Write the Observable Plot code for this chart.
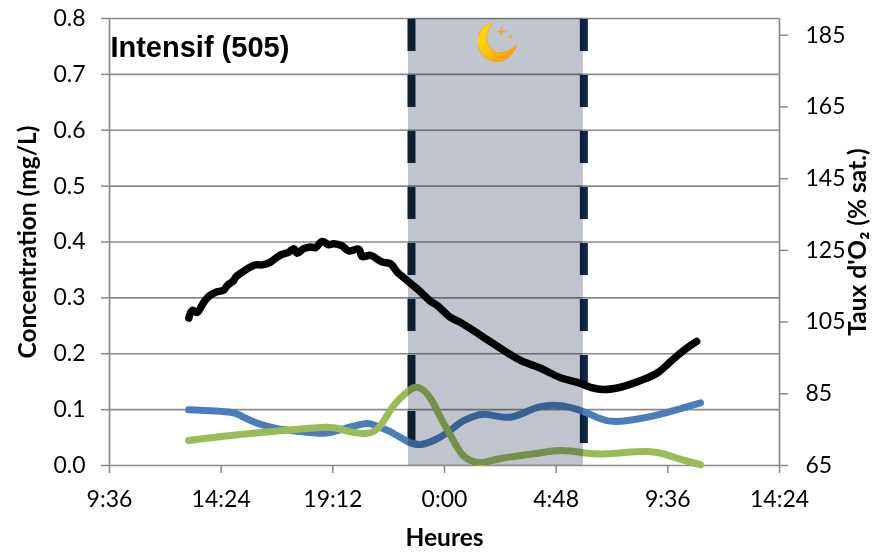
<!DOCTYPE html>
<html><head><meta charset="utf-8">
<style>html,body{margin:0;padding:0;background:#fff}svg{display:block}</style>
<script src="https://cdn.jsdelivr.net/npm/d3@7"></script>
<script src="https://cdn.jsdelivr.net/npm/@observablehq/plot@0.6"></script>
</head><body>
<div id="chart"></div>
<script>
const blackHours = [13.01,13.16,13.37,13.65,13.94,14.23,14.51,14.66,14.94,15.02,15.31,15.52,15.88,16.17,16.52,16.81,17.02,17.31,17.52,17.67,17.95,18.24,18.46,18.74,19.03,19.24,19.6,19.88,20.32,20.46,20.82,21.32,21.68,21.97,22.4,22.83,23.4,23.7,24.26,24.69,25.55,26.54,27.27,28.13,28.99,29.85,30.28,30.84,31.57,32.43,33.16,33.85,34.45,34.84];
const blackConc = [.264,.278,.274,.292,.305,.311,.314,.322,.331,.337,.346,.352,.359,.359,.364,.373,.378,.382,.388,.380,.388,.391,.390,.401,.395,.397,.393,.384,.387,.374,.376,.364,.361,.346,.331,.316,.294,.286,.265,.256,.233,.206,.188,.174,.157,.147,.140,.136,.140,.152,.166,.191,.211,.222];
const blueHours = [13.0,14.8,15.36,16.52,17.68,18.8,19.66,20.4,20.82,21.25,21.81,22.41,22.97,23.53,24.13,24.69,25.25,25.85,26.84,27.83,28.86,29.85,30.71,31.44,32.73,33.85,35.01];
const blueConc = [.0997,.0954,.0865,.0686,.0614,.0578,.0657,.0735,.0746,.068,.0573,.043,.0376,.0447,.059,.077,.0877,.0913,.0865,.1015,.1074,.0984,.0835,.0787,.0865,.0984,.112];
const greenHours = [13.0,15.1,17.08,18.97,19.83,20.69,21.25,21.81,22.41,22.88,23.4,23.83,24.26,24.69,25.12,25.68,26.41,27.83,28.99,29.98,31.01,32.73,33.85,35.01];
const greenConc = [.0447,.055,.0626,.0686,.0614,.0578,.0716,.107,.132,.1396,.12,.0859,.0537,.0233,.009,.0054,.0125,.0209,.0268,.0227,.0209,.025,.0149,.0013];
const xTicks = [9.6,14.4,19.2,24,28.8,33.6,38.4];
const xLabels = ["9:36","14:24","19:12","0:00","4:48","9:36","14:24"];
const yTicks = [0,.1,.2,.3,.4,.5,.6,.7,.8];
const o2Ticks = [65,85,105,125,145,165,185];
const nightStart = 22.45, nightEnd = 29.97;
const dashLeft = 22.58, dashRight = 29.99;
const pctPerConc = 155.83; // 0 mg/L = 65 %, 0.8 mg/L = 189.7 %
const toConc = p => (p - 65) / pctPerConc;

const zip = (xs, ys) => xs.map((x, i) => ({x, y: ys[i]}));
const grey = "#8a8a8a";
const font = "Lato";

const moon = "data:image/svg+xml," + encodeURIComponent(`<svg xmlns="http://www.w3.org/2000/svg" viewBox="0 0 40 40" width="40" height="40">
<defs><linearGradient id="g" x1="0.1" y1="0.1" x2="0.7" y2="1"><stop offset="0" stop-color="#ffdc00"/><stop offset="0.6" stop-color="#ffc20e"/><stop offset="1" stop-color="#f79a10"/></linearGradient></defs>
<path fill="url(#g)" stroke="#f9a010" stroke-width="0.8" d="M16 0C6 2 0 10 0 19C0 30 9 39 20 39C29 39 36 32 39 23C33 28 26 31 19 30C12 27 8 19 9 13C10 8 12 3 16 0Z"/>
<path fill="#f6a21e" d="M24 3.5L25 8L29.5 9L25 10L24 14.5L23 10L18.5 9L23 8ZM33 11L33.7 13.3L36 14L33.7 14.7L33 17L32.3 14.7L30 14L32.3 13.3Z"/></svg>`);

const chart = Plot.plot({
  width: 888, height: 553,
  marginLeft: 109, marginRight: 109, marginTop: 18, marginBottom: 88,
  style: {fontFamily: font, fontSize: "23px", background: "#fff", color: "#000"},
  x: {domain: [9.6, 38.4]},
  y: {domain: [0, 0.8]},
  marks: [
    Plot.ruleY(yTicks, {stroke: grey, strokeWidth: 1.7}),
    Plot.ruleX([9.6, 38.4], {stroke: grey, strokeWidth: 1.7}),
    Plot.axisX({ticks: xTicks, tickFormat: (d) => xLabels[xTicks.indexOf(d)], tickSize: 8, tickPadding: 17, stroke: grey, fill: "#000", strokeWidth: 1.5, label: null, fontSize: 23}),
    Plot.axisY({ticks: yTicks, tickFormat: d3.format(".1f"), tickSize: 8, tickPadding: 16, stroke: grey, fill: "#000", strokeWidth: 1.5, label: null, fontSize: 23}),
    Plot.axisY({anchor: "right", ticks: o2Ticks.map(toConc), tickFormat: d => String(Math.round(65 + d * pctPerConc)), tickSize: 8, tickPadding: 18, stroke: grey, fill: "#000", strokeWidth: 1.5, label: null, fontSize: 23}),
    Plot.ruleX([dashLeft, dashRight], {y1: 0.8, y2: 0, stroke: "#0f2742", strokeWidth: 8, strokeDasharray: "32,24", strokeDashoffset: -1}),
    Plot.line(zip(blueHours, blueConc), {x: "x", y: "y", stroke: "#4a7ebb", strokeWidth: 7, curve: "natural"}),
    Plot.line(zip(greenHours, greenConc), {x: "x", y: "y", stroke: "#9bbb59", strokeWidth: 7, curve: "natural"}),
    Plot.line(zip(blackHours, blackConc), {x: "x", y: "y", stroke: "#000", strokeWidth: 7.5, curve: "catmull-rom"}),
    Plot.rect([{x1: nightStart, x2: nightEnd, y1: 0, y2: 0.8}], {x1: "x1", x2: "x2", y1: "y1", y2: "y2", fill: "#c0c5cd", mixBlendMode: "multiply"}),
    Plot.image([{x: 26.28, y: 0.757}], {x: "x", y: "y", src: () => moon, width: 40, height: 40}),
    Plot.text(["Intensif (505)"], {x: 9.64, y: 0.748, text: d => d, textAnchor: "start", fontFamily: "Liberation Sans", fontWeight: "bold", fontSize: 29, fill: "#000"}),
    Plot.text(["Heures"], {frameAnchor: "bottom", dy: 80, text: d => d, fontFamily: font, fontWeight: "bold", fontSize: 24.5, fill: "#000"}),
    Plot.text(["Concentration (mg/L)"], {frameAnchor: "left", textAnchor: "middle", dx: -81, rotate: -90, text: d => d, fontFamily: font, fontWeight: "bold", fontSize: 24.5, fill: "#000"}),
    Plot.text(["Taux d'O\u2082 (% sat.)"], {frameAnchor: "right", textAnchor: "middle", dx: 79, rotate: -90, text: d => d, fontFamily: font, fontWeight: "bold", fontSize: 24.5, fill: "#000"})
  ]
});
document.getElementById("chart").append(chart);
</script>
</body></html>
